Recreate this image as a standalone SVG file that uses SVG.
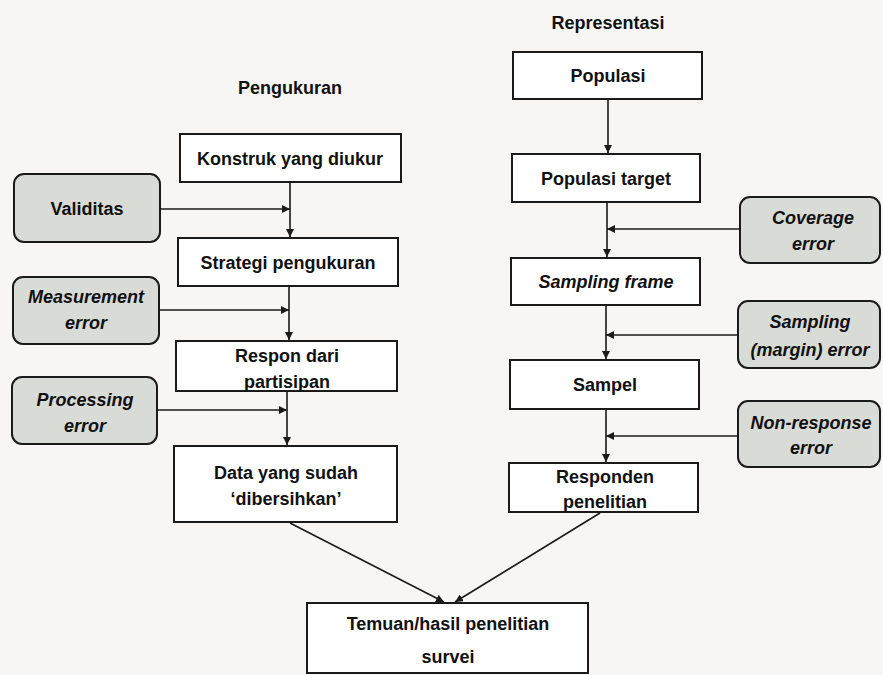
<svg xmlns="http://www.w3.org/2000/svg" width="883" height="675" viewBox="0 0 883 675">
<defs>
<marker id="ah" viewBox="0 0 10 10" refX="10" refY="5" markerWidth="8" markerHeight="8" markerUnits="userSpaceOnUse" orient="auto">
<path d="M0,0 L10,5 L0,10 z" fill="#1a1a1a"/>
</marker>
</defs>
<style>
.bg{fill:#f7f6f4}
.box{fill:#ffffff;stroke:#1a1a1a;stroke-width:2}
.err{fill:#d9dbd6;stroke:#1a1a1a;stroke-width:2}
.t{font-family:"Liberation Sans",Arial,sans-serif;font-weight:bold;font-size:18px;fill:#111;text-anchor:middle}
.i{font-style:italic}
.h{font-size:18px}
.c{fill:none;stroke:#1a1a1a;stroke-width:1.6;marker-end:url(#ah)}
</style>
<rect class="bg" x="0" y="0" width="883" height="675"/>

<text class="t h" x="290" y="94">Pengukuran</text>
<text class="t h" x="608" y="29">Representasi</text>

<g id="konstruk"><rect class="box" x="180" y="134" width="221" height="48"/><text class="t" x="290" y="165">Konstruk yang diukur</text></g>
<g id="validitas"><rect class="err" x="14" y="174" width="146" height="68" rx="10"/><text class="t" x="87" y="215">Validitas</text></g>
<g id="strategi"><rect class="box" x="178" y="238" width="220" height="48"/><text class="t" x="288" y="269">Strategi pengukuran</text></g>
<g id="measurement"><rect class="err" x="13" y="277" width="146" height="67" rx="10"/><text class="t i" x="86" y="303">Measurement</text><text class="t i" x="86" y="329">error</text></g>
<g id="respon"><rect class="box" x="176" y="341" width="221" height="50"/><text class="t" x="287" y="362">Respon dari</text><text class="t" x="287" y="388">partisipan</text></g>
<g id="processing"><rect class="err" x="12" y="377" width="145" height="67" rx="10"/><text class="t i" x="85" y="406">Processing</text><text class="t i" x="85" y="432">error</text></g>
<g id="data"><rect class="box" x="174" y="446" width="223" height="76"/><text class="t" x="286" y="479">Data yang sudah</text><text class="t" x="286" y="505">‘dibersihkan’</text></g>

<g id="populasi"><rect class="box" x="513" y="52" width="189" height="47"/><text class="t" x="608" y="82">Populasi</text></g>
<g id="populasi-target"><rect class="box" x="512" y="154" width="188" height="48"/><text class="t" x="606" y="185">Populasi target</text></g>
<g id="coverage"><rect class="err" x="740" y="197" width="140" height="66" rx="10"/><text class="t i" x="813" y="224">Coverage</text><text class="t i" x="813" y="250">error</text></g>
<g id="sampling-frame"><rect class="box" x="511" y="258" width="189" height="47"/><text class="t i" x="606" y="288">Sampling frame</text></g>
<g id="sampling-error"><rect class="err" x="738" y="301" width="142" height="67" rx="10"/><text class="t i" x="810" y="328">Sampling</text><text class="t i" x="810" y="356">(margin) error</text></g>
<g id="sampel"><rect class="box" x="510" y="360" width="189" height="49"/><text class="t" x="605" y="391">Sampel</text></g>
<g id="nonresponse"><rect class="err" x="738" y="401" width="142" height="66" rx="10"/><text class="t i" x="811" y="429">Non-response</text><text class="t i" x="811" y="454">error</text></g>
<g id="responden"><rect class="box" x="509" y="463" width="189" height="49"/><text class="t" x="605" y="483">Responden</text><text class="t" x="605" y="508">penelitian</text></g>

<g id="temuan"><rect class="box" x="307" y="603" width="281" height="70"/><text class="t" x="448" y="630">Temuan/hasil penelitian</text><text class="t" x="448" y="663">survei</text></g>

<g id="connectors">
<path class="c" d="M290,182 L290,237"/>
<path class="c" d="M160,209 L290,209"/>
<path class="c" d="M289,286 L289,340"/>
<path class="c" d="M159,310 L289,310"/>
<path class="c" d="M287,391 L287,445"/>
<path class="c" d="M157,410 L287,410"/>
<path class="c" d="M290,523 L444,602"/>
<path class="c" d="M608,99 L608,153"/>
<path class="c" d="M607,202 L607,257"/>
<path class="c" d="M740,229 L607,229"/>
<path class="c" d="M606,305 L606,359"/>
<path class="c" d="M738,335 L606,335"/>
<path class="c" d="M606,409 L606,462"/>
<path class="c" d="M738,436 L606,436"/>
<path class="c" d="M600,513 L455,602"/>
</g>
</svg>
